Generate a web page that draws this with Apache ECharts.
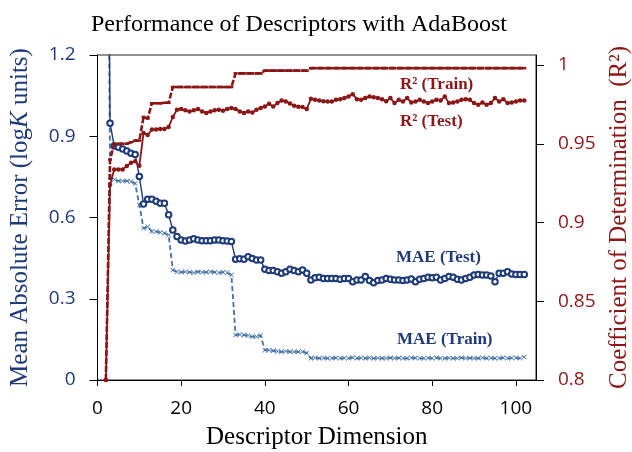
<!DOCTYPE html>
<html><head><meta charset="utf-8">
<script src="https://cdn.jsdelivr.net/npm/echarts@6/dist/echarts.min.js"></script>
<style>html,body{margin:0;padding:0;background:#fff}#c{width:632px;height:452px}</style>
</head><body><div id="c"></div>
<script>
const dims = [2,3,4,5,6,7,8,9,10,11,12,13,14,15,16,17,18,19,20,21,22,23,24,25,26,27,28,29,30,31,32,33,34,35,36,37,38,39,40,41,42,43,44,45,46,47,48,49,50,51,52,53,54,55,56,57,58,59,60,61,62,63,64,65,66,67,68,69,70,71,72,73,74,75,76,77,78,79,80,81,82,83,84,85,86,87,88,89,90,91,92,93,94,95,96,97,98,99,100,101,102];
const maeTest = [3.0,0.948,0.864,0.859,0.853,0.846,0.837,0.833,0.751,
 0.650,0.667,0.667,0.660,0.653,0.653,0.610,0.554,0.530,
 0.517,0.513,0.517,0.522,0.517,0.514,0.514,0.514,0.517,0.517,
 0.514,0.513,0.511,0.446,0.448,0.446,0.455,0.449,0.443,0.443,
 0.409,0.404,0.404,0.400,0.394,0.400,0.409,0.404,0.400,0.406,
 0.394,0.369,0.378,0.379,0.375,0.375,0.375,0.375,0.372,0.375,
 0.375,0.363,0.369,0.369,0.382,0.367,0.359,0.367,0.369,0.375,
 0.372,0.369,0.369,0.367,0.369,0.373,0.363,0.372,0.375,0.379,
 0.378,0.379,0.369,0.375,0.382,0.379,0.372,0.369,0.375,0.379,
 0.388,0.390,0.388,0.388,0.384,0.363,0.394,0.394,0.400,0.391,
 0.390,0.390,0.390];
const maeTrain = [3.0,0.751,0.740,0.735,0.735,0.735,0.733,0.726,0.646,
 0.560,0.566,0.548,0.548,0.545,0.542,0.535,0.406,0.400,
 0.398,0.400,0.398,0.396,0.400,0.398,0.398,0.400,0.398,0.396,
 0.398,0.396,0.388,0.166,0.168,0.166,0.164,0.160,0.160,0.164,
 0.110,0.110,0.108,0.106,0.104,0.106,0.104,0.104,0.104,0.104,
 0.100,0.080,0.082,0.080,0.081,0.080,0.080,0.082,0.080,0.081,
 0.080,0.083,0.080,0.081,0.080,0.082,0.080,0.081,0.080,0.080,
 0.082,0.080,0.081,0.080,0.080,0.082,0.081,0.080,0.080,0.081,
 0.080,0.082,0.080,0.080,0.081,0.080,0.080,0.082,0.080,0.081,
 0.080,0.080,0.082,0.080,0.081,0.080,0.080,0.082,0.080,0.081,
 0.082,0.080,0.085];
const r2Train = [0.800,0.940,0.950,0.950,0.950,0.950,0.951,0.952,0.952,
 0.967,0.966,0.9757,0.9757,0.9757,0.976,0.976,0.986,0.986,
 0.986,0.986,0.986,0.986,0.986,0.986,0.986,0.986,0.986,0.986,
 0.986,0.986,0.986,0.9947,0.9947,0.9947,0.9947,0.9947,0.9947,0.9947,
 0.9964,0.9964,0.9964,0.9964,0.9964,0.9964,0.9964,0.9964,0.9964,0.9964,
 0.9964,0.998,0.998,0.998,0.998,0.998,0.998,0.998,0.998,0.998,
 0.998,0.998,0.998,0.998,0.998,0.998,0.998,0.998,0.998,0.998,
 0.998,0.998,0.998,0.998,0.998,0.998,0.998,0.998,0.998,0.998,
 0.998,0.998,0.998,0.998,0.998,0.998,0.998,0.998,0.998,0.998,
 0.998,0.998,0.998,0.998,0.998,0.998,0.998,0.998,0.998,0.998,
 0.998,0.998,0.998];
const r2Test = [0.800,0.924,0.9337,0.9337,0.9337,0.9358,0.9379,0.9389,0.936,
 0.9569,0.9555,0.959,0.959,0.9594,0.9594,0.9607,0.967,0.9716,
 0.9720,0.9712,0.9705,0.9712,0.9720,0.9705,0.9695,0.9705,0.9712,0.9716,
 0.9710,0.9720,0.9727,0.9720,0.9705,0.9695,0.9705,0.9699,0.9716,0.9727,
 0.9737,0.9754,0.9737,0.9758,0.9775,0.9768,0.9756,0.9741,0.9735,0.9733,
 0.9720,0.9785,0.9779,0.9775,0.9770,0.9768,0.9768,0.9779,0.9783,0.9790,
 0.9800,0.9815,0.9783,0.9779,0.9790,0.9800,0.9796,0.9790,0.9783,0.9770,
 0.9790,0.9758,0.9779,0.9768,0.9790,0.9762,0.9768,0.9779,0.9768,0.9758,
 0.9768,0.9779,0.9775,0.9800,0.9758,0.9762,0.9768,0.9779,0.9783,0.9779,
 0.9758,0.9747,0.9762,0.9747,0.9758,0.9790,0.9768,0.9783,0.9758,0.9762,
 0.9768,0.9775,0.9775];
const xTicks = [0,20,40,60,80,100];
const leftTicks = [0,0.3,0.6,0.9,1.2];
const rightTicks = [0.8,0.85,0.9,0.95,1];

const NAVY = '#1f3a78', STEEL = '#4572a8', RED = '#8b1616';
const pair = arr => dims.map((d,i)=>[d, arr[i]]);
const xMark = 'path://M0,1L1,0L5,4L9,0L10,1L6,5L10,9L9,10L5,6L1,10L0,9L4,5Z';

const chart = echarts.init(document.getElementById('c'), null, {renderer:'canvas'});
chart.setOption({
  animation:false,
  backgroundColor:'#fff',
  title:{text:'Performance of Descriptors with AdaBoost', left:86, top:8,
    textStyle:{fontFamily:'Liberation Serif', fontSize:24, fontWeight:'normal', color:'#000'}},
  grid:{left:97.5, right:96, top:55, bottom:72, show:true, borderColor:'#222', borderWidth:1, outerBoundsMode:'none'},
  xAxis:{type:'value', min:0, max:104.8,
    axisLine:{show:true, onZero:false, lineStyle:{color:'#000', width:1}},
    axisTick:{show:true, customValues:xTicks, length:6, lineStyle:{color:'#000'}},
    axisLabel:{customValues:xTicks, margin:19, fontFamily:'Open Sans', fontSize:19, color:'#000'},
    splitLine:{show:false},
    name:'Descriptor Dimension', nameLocation:'middle', nameGap:45,
    nameTextStyle:{fontFamily:'Liberation Serif', fontSize:25, color:'#000'}},
  yAxis:[
    {type:'value', min:0, max:1.2, position:'left',
     axisLine:{show:true, lineStyle:{color:'#000', width:1}},
     axisTick:{show:true, customValues:leftTicks, length:8, lineStyle:{color:'#000'}},
     axisLabel:{customValues:leftTicks, margin:22, fontFamily:'Open Sans', fontSize:19, color:NAVY},
     splitLine:{show:false},
     name:'Mean Absolute Error (log{i|K} units)', nameLocation:'middle', nameRotate:90, nameGap:65,
     nameTextStyle:{fontFamily:'Liberation Serif', fontSize:25, color:NAVY,
       rich:{i:{fontFamily:'Liberation Serif', fontSize:25, color:NAVY, fontStyle:'italic'}}}},
    {type:'value', min:0.8, max:1.00635, position:'right',
     axisLine:{show:true, lineStyle:{color:'#000', width:1}},
     axisTick:{show:true, customValues:rightTicks, length:8, lineStyle:{color:'#000'}},
     axisLabel:{customValues:rightTicks, margin:22, fontFamily:'Open Sans', fontSize:19, color:RED},
     splitLine:{show:false},
     name:'Coefficient of Determination  (R²)', nameLocation:'middle', nameRotate:90, nameGap:62,
     nameTextStyle:{fontFamily:'Liberation Serif', fontSize:25, color:RED}}
  ],
  series:[
    {name:'MAE (Train)', type:'line', yAxisIndex:0, data:pair(maeTrain), clip:true,
     symbol:xMark, symbolSize:5, showAllSymbol:true,
     lineStyle:{color:STEEL, width:1.8, type:[5,3]}, itemStyle:{color:STEEL}, z:2},
    {name:'MAE (Test)', type:'line', yAxisIndex:0, data:pair(maeTest), clip:true,
     symbol:'emptyCircle', symbolSize:5.5, showAllSymbol:true,
     lineStyle:{color:NAVY, width:1.4}, itemStyle:{color:NAVY, borderWidth:1.6}, z:3},
    {name:'R² (Train)', type:'line', yAxisIndex:1, data:pair(r2Train), clip:true,
     symbol:'rect', symbolSize:[4,2.5], showAllSymbol:true,
     lineStyle:{color:RED, width:2.6, type:[6,2]}, itemStyle:{color:RED}, z:4},
    {name:'R² (Test)', type:'line', yAxisIndex:1, data:pair(r2Test), clip:true,
     symbol:'circle', symbolSize:4.5, showAllSymbol:true,
     lineStyle:{color:RED, width:1.8}, itemStyle:{color:RED}, z:5}
  ],
  graphic:[
    {type:'text', x:400, y:85, style:{text:'R² (Train)', fill:RED, fontFamily:'Liberation Serif', fontSize:17, fontWeight:'bold', verticalAlign:'middle'}},
    {type:'text', x:400, y:122, style:{text:'R² (Test)', fill:RED, fontFamily:'Liberation Serif', fontSize:17, fontWeight:'bold', verticalAlign:'middle'}},
    {type:'text', x:396, y:258, style:{text:'MAE (Test)', fill:NAVY, fontFamily:'Liberation Serif', fontSize:17, fontWeight:'bold', verticalAlign:'middle'}},
    {type:'text', x:397, y:340, style:{text:'MAE (Train)', fill:NAVY, fontFamily:'Liberation Serif', fontSize:17, fontWeight:'bold', verticalAlign:'middle'}}
  ]
});
</script></body></html>
